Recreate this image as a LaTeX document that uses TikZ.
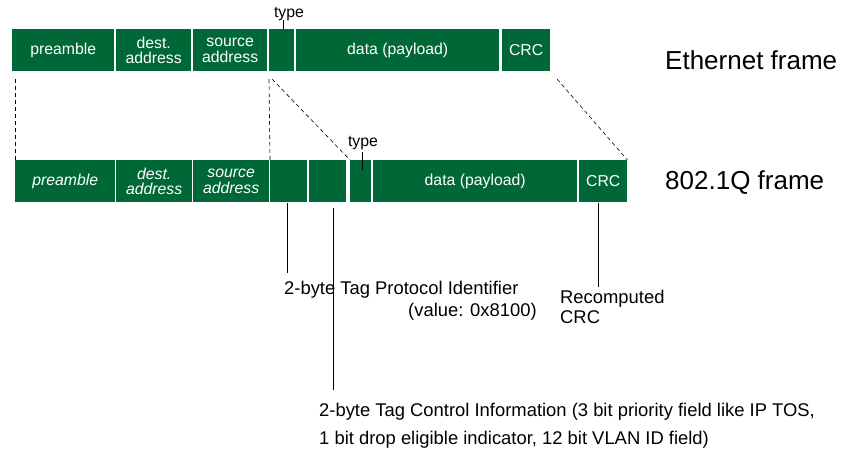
\documentclass[tikz,border=0pt]{standalone}
\usepackage{fontspec}
\setmainfont{Liberation Sans}
\definecolor{framegreen}{RGB}{0,104,55}
\begin{document}
\begin{tikzpicture}[x=1pt,y=-1pt,
  field/.style={fill=framegreen, draw=none, text=white, anchor=north west,
    inner sep=0pt, minimum height=42pt, align=center,
    font=\fontsize{15.8}{15.5}\selectfont},
  itfield/.style={field, font=\fontsize{15.8}{15.5}\selectfont\itshape},
  caption/.style={font=\fontsize{26}{26}\selectfont, anchor=west, inner sep=0pt},
  note/.style={font=\fontsize{18.4}{28}\selectfont, anchor=north west, inner sep=0pt, align=left},
  small/.style={font=\fontsize{15.8}{15.5}\selectfont, inner sep=0pt},
  guide/.style={dashed, dash pattern=on 4pt off 3pt, line width=0.6pt},
  pointer/.style={line width=1pt}]
\useasboundingbox (0,0) rectangle (843,472);

% Ethernet frame
\node[field, minimum width=102pt] (pre1) at (12,29) {preamble};
\node[field, minimum width=75pt]  (dst1) at (116,29) {dest.\\address};
\node[field, minimum width=74pt]  (src1) at (193,29) {source\\address};
\node[field, minimum width=25pt]  (typ1) at (269,29) {};
\node[field, minimum width=203pt] (dat1) at (296,29) {data (payload)};
\node[field, minimum width=48pt]  (crc1) at (502,29) {CRC};
\node[caption] (eth) at (665,60) {Ethernet frame};
\node[small] (tlab1) at (289,14) {type};
\coordinate (t1a) at (283,20);
\draw[line width=0.8pt] (t1a) -- (typ1.north west -| t1a);

% 802.1Q frame
\node[itfield, minimum width=100pt] (pre2) at (15,160) {preamble};
\node[itfield, minimum width=76pt]  (dst2) at (116,160) {dest.\\address};
\node[itfield, minimum width=76pt]  (src2) at (193,160) {source\\address};
\node[field, minimum width=37pt]  (tpid) at (270,160) {};
\node[field, minimum width=37pt]  (tci)  at (309,160) {};
\node[field, minimum width=21pt]  (typ2) at (350,160) {};
\node[field, minimum width=204pt] (dat2) at (373,160) {data (payload)};
\node[field, minimum width=48pt]  (crc2) at (579,160) {CRC};
\node[caption] (dq) at (665,183) {802.1Q frame};
\node[small] (tlab2) at (363,143) {type};
\coordinate (t2a) at (362,152);
\coordinate (t2b) at (362,170);
\draw[line width=0.8pt] (t2a) -- (t2b);

% guides from the Ethernet frame down to the tagged frame
\coordinate (g1) at (15,79);
\coordinate (g2) at (269,79);
\coordinate (g3) at (272,79);
\coordinate (g4) at (557,79);
\draw[guide] (g1) -- (pre2.north west);
\draw[guide] (g2) -- (tpid.north west);
\draw[guide] (g3) -- (typ2.north west);
\draw[guide] (g4) -- (crc2.north east);

% annotations
\node[note] (tpidtxt) at (284,281) {2-byte Tag Protocol Identifier};
\node[note] (tpidval) at (408,303) {(value: 0x8100)};
\node[note, font=\fontsize{18.4}{20}\selectfont] (crctxt) at (560,290) {Recomputed\\CRC};
\node[note] (tcitxt) at (319,403) {2-byte Tag Control Information (3 bit priority field like IP TOS,\\1 bit drop eligible indicator, 12 bit VLAN ID field)};

\coordinate (p1) at (287,273);
\coordinate (p2) at (333,390);
\coordinate (p3) at (598,287);
\draw[pointer] (tpid.south -| p1) ++(0,1) -- (p1);
\draw[pointer] (tci.south -| p2) ++(0,6) -- (p2);
\draw[pointer] (crc2.south -| p3) ++(0,1) -- (p3);
\end{tikzpicture}
\end{document}
